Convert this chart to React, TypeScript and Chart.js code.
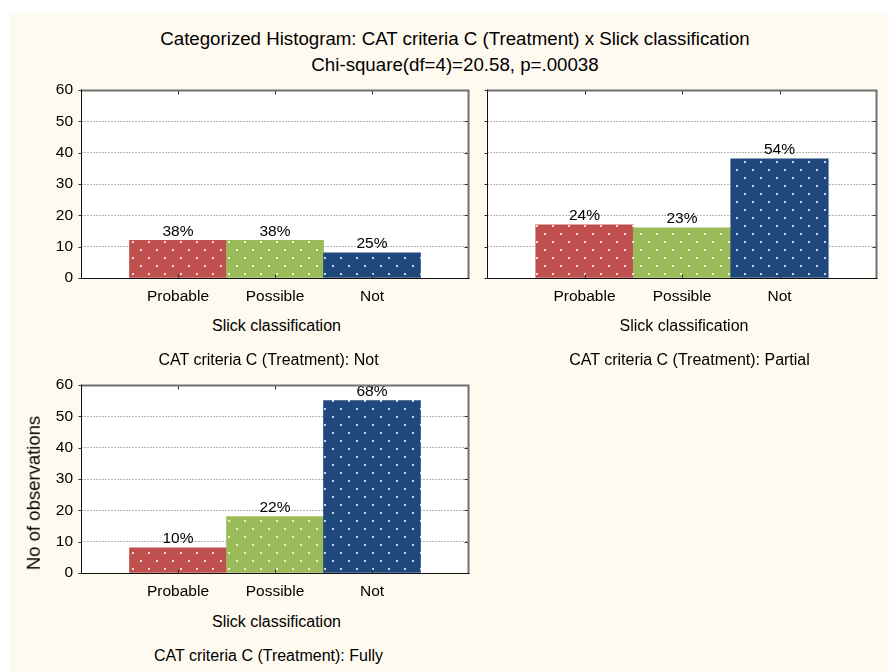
import React, { useEffect, useRef } from "react";
import { Chart, registerables } from "chart.js";

Chart.register(...registerables);

// ---------- data ----------
const categories = ["Probable", "Possible", "Not"];
const countsNot = [12, 12, 8];
const countsPartial = [17, 16, 38];
const countsFully = [8, 18, 55];
const pctNot = ["38%", "38%", "25%"];
const pctPartial = ["24%", "23%", "54%"];
const pctFully = ["10%", "22%", "68%"];
const yMin = 0;
const yMax = 60;
const yStep = 10;
const barColors = ["#c0504d", "#9bbb59", "#1f497d"];

const titleLine1 = "Categorized Histogram: CAT criteria C (Treatment) x Slick classification";
const titleLine2 = "Chi-square(df=4)=20.58, p=.00038";
const xAxisTitle = "Slick classification";
const yAxisTitle = "No of observations";
const captionNot = "CAT criteria C (Treatment): Not";
const captionPartial = "CAT criteria C (Treatment): Partial";
const captionFully = "CAT criteria C (Treatment): Fully";

const FONT = '"Liberation Sans", Arial, Helvetica, sans-serif';
const TEXT = "#000";

function makePattern(ctx: CanvasRenderingContext2D, color: string) {
  const c = document.createElement("canvas");
  c.width = 16;
  c.height = 16;
  const g = c.getContext("2d")!;
  g.fillStyle = color;
  g.fillRect(0, 0, 16, 16);
  g.fillStyle = "rgba(255,255,255,0.78)";
  g.fillRect(3, 3, 2, 2);
  g.fillRect(11, 11, 2, 2);
  return ctx.createPattern(c, "repeat")!;
}

function framePlugin(pcts: string[]) {
  return {
    id: "frame",
    beforeDraw(chart: any) {
      const { ctx, chartArea: a } = chart;
      ctx.save();
      ctx.fillStyle = "#ffffff";
      ctx.fillRect(a.left, a.top, a.right - a.left, a.bottom - a.top);
      ctx.restore();
    },
    afterDatasetsDraw(chart: any) {
      const { ctx } = chart;
      const meta = chart.getDatasetMeta(0);
      ctx.save();
      ctx.fillStyle = "#000";
      ctx.font = `15.5px ${FONT}`;
      ctx.textAlign = "center";
      ctx.textBaseline = "alphabetic";
      meta.data.forEach((el: any, i: number) => {
        if (!pcts[i]) return;
        ctx.fillText(pcts[i], el.x, el.y - 4.5);
      });
      ctx.restore();
    },
    afterDraw(chart: any) {
      const { ctx, chartArea: a, scales } = chart;
      const L = Math.round(a.left) + 0.5;
      const R = Math.round(a.right) - 0.5;
      const T = Math.round(a.top) + 0.5;
      const B = Math.round(a.bottom) + 0.5;
      ctx.save();
      ctx.strokeStyle = "#333";
      ctx.lineWidth = 1;
      ctx.beginPath();
      for (let i = 1; i <= categories.length; i++) {
        const x = Math.round(scales.x.getPixelForValue(i)) + 0.5;
        ctx.moveTo(x, B);
        ctx.lineTo(x, B - 4);
        ctx.moveTo(x, T);
        ctx.lineTo(x, T + 4);
      }
      for (let v = yMin; v <= yMax; v += yStep) {
        const y = Math.round(scales.y.getPixelForValue(v)) + 0.5;
        ctx.moveTo(L, y);
        ctx.lineTo(L - 3, y);
        ctx.moveTo(R, y);
        ctx.lineTo(R - 4, y);
      }
      ctx.stroke();
      ctx.strokeStyle = "#707070";
      ctx.lineWidth = 2;
      ctx.beginPath();
      ctx.moveTo(L, T);
      ctx.lineTo(R, T);
      ctx.lineTo(R, B);
      ctx.stroke();
      ctx.strokeStyle = "#111";
      ctx.lineWidth = 1;
      ctx.beginPath();
      ctx.moveTo(L, T - 1);
      ctx.lineTo(L, B);
      ctx.lineTo(R + 1, B);
      ctx.stroke();
      ctx.restore();
    },
  };
}

type PanelProps = {
  counts: number[];
  pcts: string[];
  showY: boolean;
  yWidth: number;
  left: number;
  top: number;
  width: number;
  height: number;
};

function Panel({ counts, pcts, showY, yWidth, left, top, width, height }: PanelProps) {
  const ref = useRef<HTMLCanvasElement | null>(null);
  useEffect(() => {
    const canvas = ref.current!;
    const ctx = canvas.getContext("2d")!;
    const labels = ["", ...categories, ""];
    const data = [null, ...counts, null];
    const bg = ["rgba(0,0,0,0)", ...barColors.map((c) => makePattern(ctx, c)), "rgba(0,0,0,0)"];
    const pctLabels = ["", ...pcts, ""];
    const chart = new Chart(canvas, {
      type: "bar",
      data: {
        labels,
        datasets: [
          {
            data: data as any,
            backgroundColor: bg as any,
            borderWidth: 0,
            barPercentage: 1,
            categoryPercentage: 1,
          },
        ],
      },
      options: {
        animation: false,
        responsive: false,
        maintainAspectRatio: false,
        devicePixelRatio: 1,
        layout: { padding: { top: 20, right: 10, left: 0, bottom: 0 }, autoPadding: false },
        plugins: {
          legend: { display: false },
          tooltip: { enabled: false },
          title: { display: false },
        },
        scales: {
          x: {
            type: "category",
            offset: false,
            grid: { display: false },
            border: { display: false },
            ticks: {
              font: { family: FONT, size: 15.5, lineHeight: 1.2 },
              color: TEXT,
              padding: 1,
              maxRotation: 0,
              autoSkip: false,
            },
            afterFit: (s: any) => {
              s.height = 32;
            },
          },
          y: {
            min: yMin,
            max: yMax,
            ticks: {
              stepSize: yStep,
              display: showY,
              font: { family: FONT, size: 15.5, lineHeight: 1.2 },
              color: TEXT,
              padding: 8,
            },
            grid: { color: "#b4b4b4", drawTicks: false, lineWidth: 1 },
            border: { display: false, dash: [2, 1] },
            afterFit: (s: any) => {
              s.width = yWidth;
            },
          },
        },
      } as any,
      plugins: [framePlugin(pctLabels)],
    });
    return () => chart.destroy();
  }, []);
  return (
    <canvas
      ref={ref}
      width={width}
      height={height}
      style={{ position: "absolute", left, top, width, height }}
    />
  );
}

function Text({ x, y, size, children, rotate }: { x: number; y: number; size: number; children: any; rotate?: boolean }) {
  return (
    <div
      style={{
        position: "absolute",
        left: x,
        top: y,
        transform: `translate(-50%,-50%)${rotate ? " rotate(-90deg)" : ""}`,
        fontFamily: FONT,
        fontSize: size,
        color: TEXT,
        whiteSpace: "nowrap",
        lineHeight: 1,
      }}
    >
      {children}
    </div>
  );
}

export default function App() {
  return (
    <div
      style={{
        position: "fixed",
        left: 9,
        top: 13,
        width: 879,
        height: 659,
        background: "#fffaf0",
        overflow: "hidden",
      }}
    >
      <Text x={446} y={26} size={18.7}>{titleLine1}</Text>
      <Text x={446} y={52} size={18.7}>{titleLine2}</Text>

      <Panel counts={countsNot} pcts={pctNot} showY={true} yWidth={72} left={0} top={57} width={470} height={240} />
      <Panel counts={countsPartial} pcts={pctPartial} showY={false} yWidth={10} left={468} top={57} width={410} height={240} />
      <Panel counts={countsFully} pcts={pctFully} showY={true} yWidth={72} left={0} top={352} width={470} height={240} />

      <Text x={267.5} y={313} size={16}>{xAxisTitle}</Text>
      <Text x={259.5} y={347} size={16}>{captionNot}</Text>
      <Text x={675} y={313} size={16}>{xAxisTitle}</Text>
      <Text x={680.5} y={347} size={16}>{captionPartial}</Text>
      <Text x={267.5} y={609} size={16}>{xAxisTitle}</Text>
      <Text x={259.5} y={643} size={16}>{captionFully}</Text>
      <Text x={24.5} y={479.5} size={18.5} rotate>{yAxisTitle}</Text>
    </div>
  );
}
